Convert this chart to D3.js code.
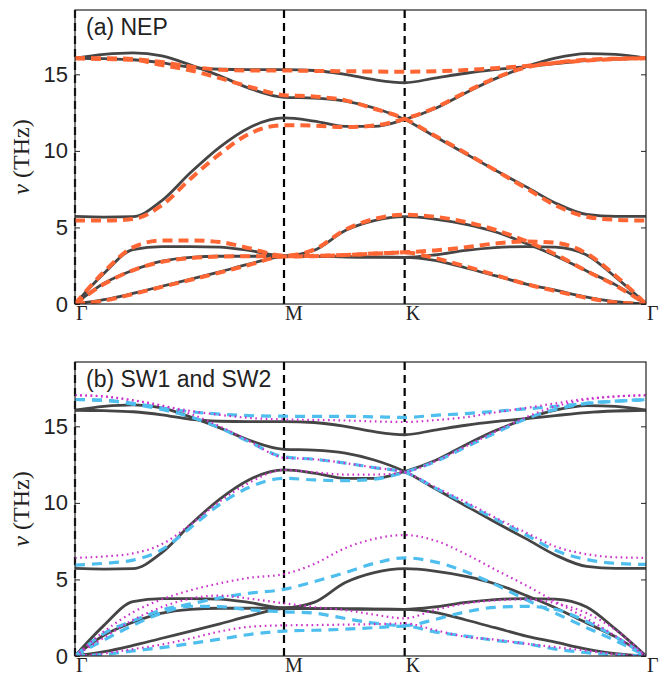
<!DOCTYPE html>
<html><head><meta charset="utf-8">
<script src="https://cdn.jsdelivr.net/npm/d3@7"></script>
<style>body{margin:0;background:#fff}svg{display:block}</style>
</head><body>
<svg id="chart" width="670" height="677"></svg>
<script>
// ---------- data ----------
const kPoints = [0, 0.12, 0.24, 0.36, 0.48, 0.60, 0.72, 0.866, 0.99, 1.12, 1.24, 1.366, 1.49, 1.62, 1.74, 1.87, 1.99, 2.12, 2.24, 2.366];
const symLabels = ["Γ", "M", "K", "Γ"];
const symPositions = [0, 0.866, 1.366, 2.366];
const yTicks = [0, 5, 10, 15];
const panelTitles = ["(a) NEP", "(b) SW1 and SW2"];

// reference (solid)
const dftA1 = [0, 2.0, 3.55, 3.75, 3.75, 3.72, 3.5, 3.15, 3.5, 4.8, 5.45, 5.7, 5.55, 5.2, 4.72, 3.95, 3.15, 2.15, 1.25, 0];
const dftA2 = [0, 1.35, 2.2, 2.8, 3.05, 3.12, 3.12, 3.12, 3.1, 3.08, 3.06, 3.05, 3.2, 3.5, 3.68, 3.75, 3.72, 3.2, 1.75, 0];
const dftA3 = [0, 0.28, 0.69, 1.16, 1.62, 2.1, 2.6, 3.1, 3.1, 3.08, 3.06, 3.05, 2.85, 2.35, 1.85, 1.3, 0.9, 0.45, 0.15, 0];
const dftO1 = [5.72, 5.68, 5.7, 6.75, 8.6, 10.25, 11.5, 12.15, 11.95, 11.6, 11.6, 12.05, 12.75, 13.8, 14.7, 15.5, 16.05, 16.35, 16.3, 16.05];
const dftO2 = [16.05, 16.3, 16.4, 16.2, 15.6, 14.9, 14.1, 13.5, 13.45, 13.25, 12.8, 12.05, 10.95, 9.8, 8.75, 7.65, 6.6, 5.85, 5.72, 5.72];
const dftO3 = [16.05, 16.02, 15.95, 15.75, 15.45, 15.33, 15.3, 15.3, 15.25, 15.0, 14.65, 14.45, 14.75, 15.07, 15.3, 15.5, 15.7, 15.9, 16.0, 16.05];

// NEP (orange dashed)
const nepA1 = [0, 2.1, 3.7, 4.15, 4.15, 4.05, 3.65, 3.15, 3.55, 4.85, 5.55, 5.83, 5.7, 5.35, 4.85, 4.1, 3.25, 2.15, 1.2, 0];
const nepA2 = [0, 1.3, 2.2, 2.75, 3.0, 3.1, 3.12, 3.12, 3.15, 3.2, 3.3, 3.38, 3.5, 3.7, 3.95, 4.08, 4.0, 3.3, 1.85, 0];
const nepA3 = [0, 0.22, 0.65, 1.12, 1.58, 2.05, 2.55, 3.1, 3.12, 3.2, 3.28, 3.36, 3.0, 2.45, 1.9, 1.3, 0.85, 0.4, 0.1, 0];
const nepO1 = [5.45, 5.45, 5.55, 6.45, 8.2, 9.8, 11.1, 11.68, 11.65, 11.55, 11.65, 12.1, 12.8, 13.85, 14.75, 15.45, 15.75, 15.95, 16.02, 16.05];
const nepO2 = [16.05, 16.0, 15.95, 15.6, 15.25, 14.75, 14.2, 13.64, 13.55, 13.3, 12.75, 12.1, 11.0, 9.85, 8.75, 7.55, 6.45, 5.7, 5.5, 5.45];
const nepO3 = [16.05, 16.05, 16.0, 15.8, 15.5, 15.3, 15.25, 15.25, 15.22, 15.2, 15.18, 15.17, 15.2, 15.28, 15.4, 15.55, 15.75, 15.9, 16.0, 16.05];

// SW1 (blue dashed)
const sw1A1 = [0, 1.48, 2.3, 3.0, 3.4, 3.8, 4.1, 4.35, 4.85, 5.45, 6.05, 6.41, 6.15, 5.5, 4.68, 3.67, 2.8, 1.85, 1.0, 0];
const sw1A2 = [0, 1.04, 2.0, 2.8, 3.25, 3.22, 3.02, 2.89, 2.8, 2.45, 2.15, 1.98, 2.38, 2.88, 3.18, 3.24, 3.05, 2.25, 1.25, 0];
const sw1A3 = [0, 0.1, 0.33, 0.55, 0.82, 1.1, 1.4, 1.63, 1.68, 1.75, 1.85, 1.95, 1.58, 1.3, 1.02, 0.8, 0.45, 0.22, 0.07, 0];
const sw1O1 = [5.94, 6.05, 6.26, 6.95, 8.4, 9.9, 11.0, 11.6, 11.5, 11.45, 11.55, 12.0, 12.67, 13.65, 14.55, 15.5, 16.1, 16.5, 16.65, 16.74];
const sw1O2 = [16.75, 16.7, 16.45, 16.1, 15.6, 14.9, 14.0, 13.0, 12.85, 12.6, 12.3, 12.0, 11.0, 9.95, 8.95, 7.9, 6.9, 6.3, 6.05, 5.98];
const sw1O3 = [16.75, 16.7, 16.5, 16.2, 15.95, 15.8, 15.7, 15.66, 15.65, 15.65, 15.62, 15.58, 15.72, 15.83, 15.98, 16.14, 16.3, 16.5, 16.63, 16.74];

// SW2 (magenta dotted)
const sw2A1 = [0, 1.6, 2.85, 3.7, 4.3, 4.75, 5.1, 5.35, 6.0, 7.05, 7.65, 7.9, 7.55, 6.65, 5.65, 4.6, 3.55, 2.45, 1.3, 0];
const sw2A2 = [0, 1.2, 2.35, 3.2, 3.75, 3.95, 3.75, 3.44, 3.2, 3.0, 2.7, 2.46, 3.0, 3.44, 3.63, 3.7, 3.45, 2.8, 1.7, 0];
const sw2A3 = [0, 0.17, 0.45, 0.75, 1.15, 1.6, 1.9, 2.0, 2.02, 2.05, 2.08, 2.13, 1.7, 1.25, 1.07, 0.8, 0.58, 0.35, 0.12, 0];
const sw2O1 = [6.41, 6.5, 6.7, 7.3, 8.6, 10.1, 11.3, 12.15, 12.0, 11.85, 11.85, 12.0, 12.7, 13.7, 14.65, 15.6, 16.3, 16.75, 16.95, 17.03];
const sw2O2 = [17.03, 16.95, 16.7, 16.35, 15.8, 15.0, 14.05, 12.95, 12.85, 12.6, 12.3, 12.0, 11.05, 10.05, 9.05, 8.05, 7.15, 6.65, 6.45, 6.41];
const sw2O3 = [17.03, 16.95, 16.7, 16.35, 16.0, 15.75, 15.55, 15.45, 15.42, 15.38, 15.32, 15.28, 15.4, 15.6, 15.9, 16.2, 16.5, 16.8, 16.95, 17.03];

// ---------- layout / styles ----------
const dftSet = [dftA1, dftA2, dftA3, dftO1, dftO2, dftO3];
const styles = {
  dft: {stroke: "#454545", width: 2.8, dash: null},
  nep: {stroke: "#FF6633", width: 4, dash: "10,6"},
  sw1: {stroke: "#4DBEEE", width: 3.2, dash: "10,7"},
  sw2: {stroke: "#CC33CC", width: 2.2, dash: "1.6,3.6"}
};
const panels = [
  {top: 10, title: panelTitles[0], sets: [["dft", dftSet], ["nep", [nepA1, nepA2, nepA3, nepO1, nepO2, nepO3]]]},
  {top: 362, title: panelTitles[1], sets: [["dft", dftSet], ["sw1", [sw1A1, sw1A2, sw1A3, sw1O1, sw1O2, sw1O3]], ["sw2", [sw2A1, sw2A2, sw2A3, sw2O1, sw2O2, sw2O3]]]}
];
const left = 75, plotW = 571, plotH = 294;
const svg = d3.select("#chart");
const x = d3.scaleLinear().domain([0, symPositions[symPositions.length - 1]]).range([0, plotW]);
const y = d3.scaleLinear().domain([0, 19.2]).range([plotH, 0]);
const line = d3.line().x((d, i) => x(kPoints[i])).y(d => y(d)).curve(d3.curveMonotoneX);

panels.forEach(p => {
  const g = svg.append("g").attr("transform", `translate(${left},${p.top})`);
  const clipId = "clip" + p.top;
  g.append("clipPath").attr("id", clipId).append("rect").attr("width", plotW).attr("height", plotH);

  // symmetry dashed lines
  g.selectAll(".sym").data(symPositions.slice(0, 3)).enter().append("line")
    .attr("x1", d => x(d)).attr("x2", d => x(d)).attr("y1", 0).attr("y2", plotH)
    .attr("stroke", "#000").attr("stroke-width", 2.2).attr("stroke-dasharray", "8,5");

  const curves = g.append("g").attr("clip-path", `url(#${clipId})`);
  p.sets.forEach(([key, branches]) => {
    const st = styles[key];
    curves.selectAll(null).data(branches).enter().append("path")
      .attr("d", line).attr("fill", "none")
      .attr("stroke", st.stroke).attr("stroke-width", st.width)
      .attr("stroke-dasharray", st.dash)
      .attr("stroke-linecap", "butt");
  });

  // frame
  g.append("rect").attr("width", plotW).attr("height", plotH)
    .attr("fill", "none").attr("stroke", "#222").attr("stroke-width", 1.2);

  // y axis (left, inward ticks)
  const ay = g.append("g").call(d3.axisLeft(y).tickValues(yTicks).tickSize(-5).tickPadding(7).tickFormat(d3.format("d")));
  ay.select(".domain").remove();
  ay.selectAll("line").attr("stroke", "#222");
  ay.selectAll("text").attr("font-family", "'Liberation Sans', Arial, sans-serif").attr("font-size", 22).attr("fill", "#222");
  // right inward ticks
  const ar = g.append("g").attr("transform", `translate(${plotW},0)`)
    .call(d3.axisRight(y).tickValues(yTicks).tickSize(-5).tickFormat(""));
  ar.select(".domain").remove();
  ar.selectAll("line").attr("stroke", "#222");

  // x labels
  g.selectAll(".xl").data(symPositions).enter().append("text")
    .attr("x", d => x(d) + 1).attr("y", plotH + 16)
    .attr("font-family", "'Liberation Serif', 'DejaVu Serif', serif").attr("font-size", 20).attr("fill", "#222")
    .text((d, i) => symLabels[i]);

  // y label
  const yl = g.append("text")
    .attr("transform", `translate(${-46},${plotH * 0.5}) rotate(-90)`)
    .attr("text-anchor", "middle")
    .attr("font-family", "'Liberation Serif', 'DejaVu Serif', serif").attr("font-size", 24).attr("fill", "#222");
  yl.append("tspan").attr("font-style", "italic").text("ν");
  yl.append("tspan").text(" (THz)");

  // panel title
  g.append("text").attr("x", 11).attr("y", 25)
    .attr("font-family", "'Liberation Sans', Arial, sans-serif").attr("font-size", 23).attr("fill", "#222")
    .text(p.title);
});
</script>
</body></html>
